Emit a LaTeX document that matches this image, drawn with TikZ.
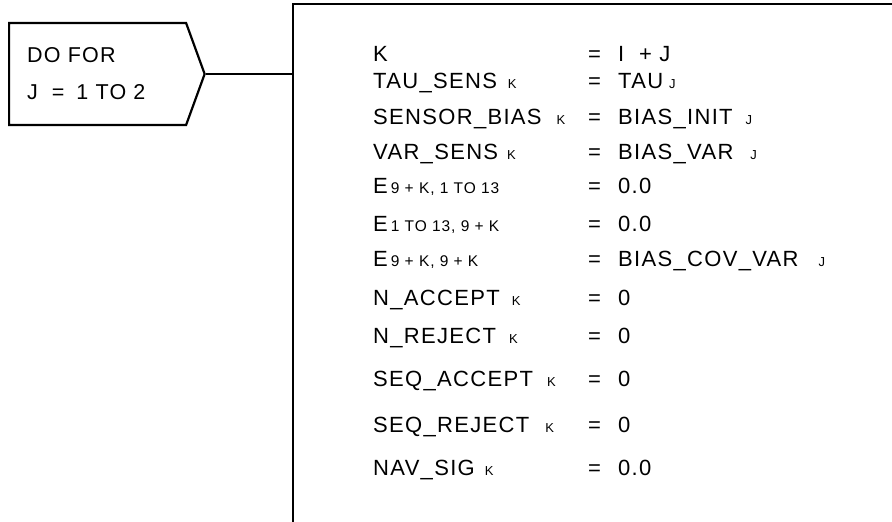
\documentclass[tikz,border=0pt]{standalone}
\usepackage{fontspec}
\setmainfont{Liberation Sans}[LetterSpace=6]
\usepackage{tikz}
\usetikzlibrary{shapes.symbols, positioning}

% small index letters written after a name
\newcommand{\idx}[2][11pt]{\hspace{#1}{\fontsize{13}{13}\selectfont #2}}
\newcommand{\esub}[1]{\hspace{3pt}{\fontsize{15.5}{15.5}\selectfont #1}}

\begin{document}
\begin{tikzpicture}[
  x=1pt, y=-1pt,
  txt/.style={anchor=base west, inner sep=0pt, font=\fontsize{22}{22}\selectfont},
  loopbox/.style={draw, line width=2.2pt, shape=signal, signal to=east,
                  signal pointer angle=140, minimum height=102pt, text width=141pt,
                  inner xsep=18pt, align=left, font=\fontsize{21.5}{37}\selectfont},
  frame/.style={line width=2.8pt},
  link/.style={line width=2.2pt}
]
\useasboundingbox (0,0) rectangle (892,522);

% --- loop header ---
\node[loopbox, anchor=west] (dofor) at (8,74) {DO FOR\\J\hspace{14pt}=\hspace{12pt}1 TO 2};

% --- loop body frame (open to the right and below) ---
\draw[frame] (896,4) -| (293,526);
\coordinate (bodyIn) at (293,74);
\draw[link] (dofor.east) -- (bodyIn);

% --- left-hand sides ---
\node[txt] (kVar)    at (373,61)  {K};
\node[txt] (tau)     at (373,88)  {TAU\_SENS\idx{K}};
\node[txt] (sens)    at (373,124) {SENSOR\_BIAS\idx[15pt]{K}};
\node[txt] (var)     at (373,159) {VAR\_SENS\idx[9pt]{K}};
\node[txt] (eRow)    at (373,193) {E\esub{9 + K, 1 TO 13}};
\node[txt] (eCol)    at (373,231) {E\esub{1 TO 13, 9 + K}};
\node[txt] (eDiag)   at (373,266) {E\esub{9 + K, 9 + K}};
\node[txt] (nAcc)    at (373,305) {N\_ACCEPT\idx[12pt]{K}};
\node[txt] (nRej)    at (373,343) {N\_REJECT\idx[13pt]{K}};
\node[txt] (seqAcc)  at (373,386) {SEQ\_ACCEPT\idx[14pt]{K}};
\node[txt] (seqRej)  at (373,432) {SEQ\_REJECT\idx[16pt]{K}};
\node[txt] (navSig)  at (373,475) {NAV\_SIG\idx[10pt]{K}};

% --- equals signs ---
\node[txt] (kEq)      at (588,61)  {=};
\node[txt] (tauEq)    at (588,88)  {=};
\node[txt] (sensEq)   at (588,124) {=};
\node[txt] (varEq)    at (588,159) {=};
\node[txt] (eRowEq)   at (588,193) {=};
\node[txt] (eColEq)   at (588,231) {=};
\node[txt] (eDiagEq)  at (588,266) {=};
\node[txt] (nAccEq)   at (588,305) {=};
\node[txt] (nRejEq)   at (588,343) {=};
\node[txt] (seqAccEq) at (588,386) {=};
\node[txt] (seqRejEq) at (588,432) {=};
\node[txt] (navSigEq) at (588,475) {=};

% --- right-hand sides ---
\node[txt] (kVal)      at (618,61)  {I\ \ + J};
\node[txt] (tauVal)    at (618,88)  {TAU\idx[6pt]{J}};
\node[txt] (sensVal)   at (618,124) {BIAS\_INIT\idx[13pt]{J}};
\node[txt] (varVal)    at (618,159) {BIAS\_VAR\idx[17pt]{J}};
\node[txt] (eRowVal)   at (618,193) {0.0};
\node[txt] (eColVal)   at (618,231) {0.0};
\node[txt] (eDiagVal)  at (618,266) {BIAS\_COV\_VAR\idx[20pt]{J}};
\node[txt] (nAccVal)   at (618,305) {0};
\node[txt] (nRejVal)   at (618,343) {0};
\node[txt] (seqAccVal) at (618,386) {0};
\node[txt] (seqRejVal) at (618,432) {0};
\node[txt] (navSigVal) at (618,475) {0.0};

\end{tikzpicture}
\end{document}
